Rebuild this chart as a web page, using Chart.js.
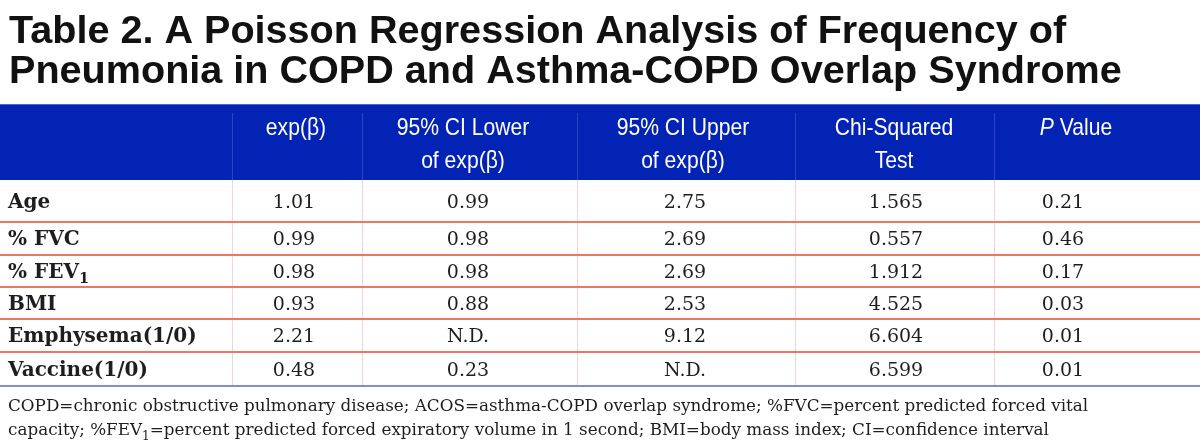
<!DOCTYPE html>
<html>
<head>
<meta charset="utf-8">
<script src="https://cdn.jsdelivr.net/npm/chart.js@4.4.1/dist/chart.umd.min.js"></script>
<style>
  html, body { margin: 0; padding: 0; background: #fff; }
  #wrap { width: 1200px; height: 447px; }
</style>
</head>
<body>
<div id="wrap"><canvas id="tableChart" width="1200" height="447"></canvas></div>
<script>
// table content
const titleLines = [
  'Table 2. A Poisson Regression Analysis of Frequency of',
  'Pneumonia in COPD and Asthma-COPD Overlap Syndrome'
];
const headerLines = [
  [],
  ['exp(β)'],
  ['95% CI Lower', 'of exp(β)'],
  ['95% CI Upper', 'of exp(β)'],
  ['Chi-Squared', 'Test'],
  ['P Value']
];
const italicWords = ['P'];
const rowLabels = ['Age', '% FVC', '% FEV₁', 'BMI', 'Emphysema(1/0)', 'Vaccine(1/0)'];
const expBeta = ['1.01', '0.99', '0.98', '0.93', '2.21', '0.48'];
const ciLower = ['0.99', '0.98', '0.98', '0.88', 'N.D.', '0.23'];
const ciUpper = ['2.75', '2.69', '2.69', '2.53', '9.12', 'N.D.'];
const chiSquared = ['1.565', '0.557', '1.912', '4.525', '6.604', '6.599'];
const pValue = ['0.21', '0.46', '0.17', '0.03', '0.01', '0.01'];
const footnoteLines = [
  'COPD=chronic obstructive pulmonary disease; ACOS=asthma-COPD overlap syndrome; %FVC=percent predicted forced vital',
  'capacity; %FEV₁=percent predicted forced expiratory volume in 1 second; BMI=body mass index; CI=confidence interval'
];

// layout (in scale units, x 0..1200, y 0..447)
const colEdges = [0, 232, 362, 577, 795, 994, 1200];
const bodyX = [8, 294, 468, 685, 896, 1063];
const headX = [0, 296, 463, 683, 894, 1076];
const rowEdges = [104, 180, 222, 254.5, 287, 319, 351.5, 386];
const headBase = [135, 168];
const titleBase = [43, 83];
const noteBase = [411, 435];

const SUBS = '₀₁₂₃₄₅₆₇₈₉';

// draw text where ₁ etc. become real subscripts
function drawRich(ctx, text, x, y, style, size, align) {
  const parts = [];
  for (const ch of text) {
    const i = SUBS.indexOf(ch);
    const sub = i >= 0;
    const c = sub ? String(i) : ch;
    if (parts.length && parts[parts.length - 1].sub === sub) parts[parts.length - 1].t += c;
    else parts.push({ t: c, sub: sub });
  }
  const fontFor = p => style + ' ' + (p.sub ? (size * 0.72).toFixed(1) : size) + 'px "DejaVu Serif", serif';
  let total = 0;
  parts.forEach(p => {
    ctx.font = fontFor(p);
    p.w = ctx.measureText(p.t).width;
    total += p.w;
  });
  let cx = align === 'center' ? x - total / 2 : x;
  ctx.textAlign = 'left';
  parts.forEach(p => {
    ctx.font = fontFor(p);
    ctx.fillText(p.t, cx, p.sub ? y + size * 0.28 : y);
    cx += p.w;
  });
}

const tablePlugin = {
  id: 'tablePlugin',
  afterDraw(chart) {
    const ctx = chart.ctx;
    const xs = chart.scales.x, ys = chart.scales.y;
    const X = v => xs.getPixelForValue(v);
    const Y = v => ys.getPixelForValue(v);
    ctx.save();
    ctx.textBaseline = 'alphabetic';

    // title
    ctx.fillStyle = '#111111';
    ctx.font = 'bold 39.6px "Liberation Sans", Arial, sans-serif';
    ctx.textAlign = 'left';
    titleLines.forEach((t, i) => ctx.fillText(t, X(9), Y(titleBase[i])));

    // header band
    ctx.fillStyle = '#0323b5';
    ctx.fillRect(X(0), Y(rowEdges[0]), X(1200) - X(0), Y(rowEdges[1]) - Y(rowEdges[0]));
    ctx.fillStyle = '#4a68d0';
    ctx.fillRect(X(0), Y(rowEdges[0]), X(1200) - X(0), 1);

    // vertical separators
    for (let c = 1; c < colEdges.length - 1; c++) {
      ctx.fillStyle = '#2b45c2';
      ctx.fillRect(Math.round(X(colEdges[c])), Y(113), 1, Y(rowEdges[1]) - Y(113));
      ctx.fillStyle = '#f7d4d4';
      ctx.fillRect(Math.round(X(colEdges[c])), Y(rowEdges[1]), 1, Y(rowEdges[7]) - Y(rowEdges[1]));
    }

    // header text
    ctx.fillStyle = '#ffffff';
    headerLines.forEach((lines, c) => {
      lines.forEach((line, li) => {
        ctx.save();
        ctx.translate(X(headX[c]), Y(headBase[li]));
        ctx.scale(0.88, 1);
        const words = line.split(' ');
        const fonts = words.map(w => (italicWords.includes(w) ? 'italic ' : '') + '24px "Liberation Sans", Arial, sans-serif');
        const widths = words.map((w, k) => { ctx.font = fonts[k]; return ctx.measureText(w).width; });
        ctx.font = fonts[0];
        const sp = ctx.measureText(' ').width;
        const total = widths.reduce((a, b) => a + b, 0) + sp * (words.length - 1);
        let cx = -total / 2;
        ctx.textAlign = 'left';
        words.forEach((w, k) => {
          ctx.font = fonts[k];
          ctx.fillText(w, cx, 0);
          cx += widths[k] + sp;
        });
        ctx.restore();
      });
    });

    // row lines
    for (let r = 2; r < 7; r++) {
      ctx.fillStyle = '#ec7862';
      ctx.fillRect(X(0), Math.round(Y(rowEdges[r])) - 1, X(1200) - X(0), 2);
    }
    ctx.fillStyle = '#7f8fd2';
    ctx.fillRect(X(0), Math.round(Y(rowEdges[7])) - 1, X(1200) - X(0), 2);

    // body
    const cols = [rowLabels, expBeta, ciLower, ciUpper, chiSquared, pValue];
    ctx.fillStyle = '#1e1e1e';
    for (let r = 0; r < rowLabels.length; r++) {
      const mid = (rowEdges[r + 1] + rowEdges[r + 2]) / 2;
      const base = Y(mid) + 7;
      cols.forEach((col, c) => {
        if (c === 0) {
          drawRich(ctx, col[r], X(bodyX[0]), base, 'bold', 20, 'left');
        } else {
          drawRich(ctx, col[r], X(bodyX[c]), base, 'normal', 19, 'center');
        }
      });
    }

    // footnote
    ctx.fillStyle = '#1e1e1e';
    footnoteLines.forEach((t, i) => {
      drawRich(ctx, t, X(8), Y(noteBase[i]), 'normal', 16.8, 'left');
    });

    ctx.restore();
  }
};

new Chart(document.getElementById('tableChart'), {
  type: 'scatter',
  data: { datasets: [{ data: [], pointRadius: 0 }] },
  options: {
    responsive: false,
    animation: false,
    layout: { padding: 0 },
    events: [],
    plugins: { legend: { display: false }, tooltip: { enabled: false } },
    scales: {
      x: { type: 'linear', min: 0, max: 1200, display: false },
      y: { type: 'linear', min: 0, max: 447, reverse: true, display: false }
    }
  },
  plugins: [tablePlugin]
});
</script>
</body>
</html>
